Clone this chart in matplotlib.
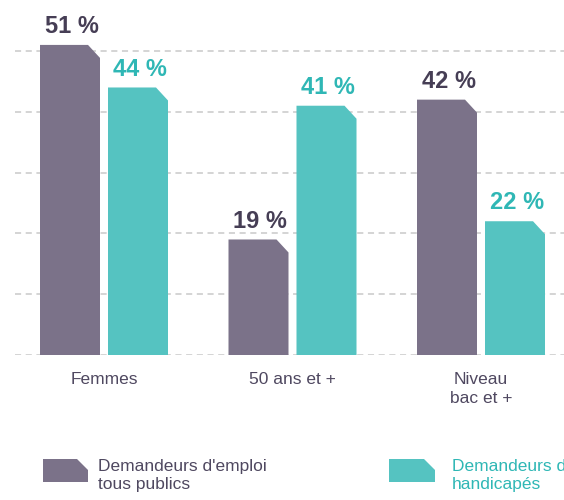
import matplotlib
matplotlib.use("Agg")
import matplotlib.pyplot as plt
from matplotlib.patches import Polygon

categories = ["Femmes", "50 ans et +", "Niveau\nbac et +"]
tous_publics = [51, 19, 42]
handicapes = [44, 41, 22]
series_names = ["Demandeurs d'emploi\ntous publics", "Demandeurs d'emploi\nhandicapés"]
label_fmt = "{} %"

PURPLE = "#7b7289"
TEAL = "#55c3c1"
PURPLE_TXT = "#463e55"
TEAL_TXT = "#2fb7b5"
LABEL_TXT = "#4f4860"
GRID = "#c9c9c9"

plt.rcParams["font.family"] = ["Liberation Sans", "DejaVu Sans"]

W, H = 564, 500
fig = plt.figure(figsize=(W / 100, H / 100), dpi=100)

# axes geometry (pixels)
left_px, right_px = 15, 564
base_px = 355  # from top
top_px = 0
px_per_unit = 6.08
group_px = 188.5
first_center_px = 104

ax = fig.add_axes([left_px / W, (H - base_px) / H, (right_px - left_px) / W, (base_px - top_px) / H])
ax.set_xlim((left_px - first_center_px) / group_px, (right_px - first_center_px) / group_px)
ax.set_ylim(0, (base_px - top_px) / px_per_unit)
ax.axis("off")

for g in range(0, 60, 10):
    ax.axhline(g, color=GRID, lw=1.1, ls=(0, (4, 3)), zorder=0)

bw = 60 / group_px
off = 34 / group_px
cx = 12 / group_px
cy = 13 / px_per_unit


def chamfer_bar(x0, h, color):
    pts = [(x0, 0), (x0, h), (x0 + bw - cx, h), (x0 + bw, h - cy), (x0 + bw, 0)]
    ax.add_patch(Polygon(pts, closed=True, facecolor=color, edgecolor="none", zorder=2))


for i, (a, b) in enumerate(zip(tous_publics, handicapes)):
    xa = i - off - bw / 2
    xb = i + off - bw / 2
    chamfer_bar(xa, a, PURPLE)
    chamfer_bar(xb, b, TEAL)
    ax.annotate(label_fmt.format(a), (i - off + 0.01, a), xytext=(0, 5), textcoords="offset points",
                ha="center", va="bottom", fontsize=17, color=PURPLE_TXT, fontweight="bold")
    ax.annotate(label_fmt.format(b), (i + off + 0.01, b), xytext=(0, 5), textcoords="offset points",
                ha="center", va="bottom", fontsize=17, color=TEAL_TXT, fontweight="bold")
    ax.annotate(categories[i], (i, 0), xytext=(0, -12), textcoords="offset points",
                ha="center", va="top", fontsize=12.5, color=LABEL_TXT, linespacing=1.35,
                annotation_clip=False)


# legend
def fig_chamfer(x0, y_top, w, h, c, color):
    y_bot = y_top + h
    pts = [(x0, y_bot), (x0, y_top), (x0 + w - c, y_top), (x0 + w, y_top + c), (x0 + w, y_bot)]
    pts = [(px / W, 1 - py / H) for px, py in pts]
    fig.add_artist(Polygon(pts, closed=True, facecolor=color, edgecolor="none", transform=fig.transFigure))


fig_chamfer(43, 459, 45, 23, 11, PURPLE)
fig_chamfer(389, 459, 46, 23, 11, TEAL)
fig.text(98 / W, 1 - 459 / H, series_names[0], ha="left", va="top", fontsize=12.5, color=LABEL_TXT, linespacing=1.25)
fig.text(452 / W, 1 - 459 / H, series_names[1], ha="left", va="top", fontsize=12.5, color=TEAL_TXT, linespacing=1.25)

fig.savefig("out.png", dpi=100)
